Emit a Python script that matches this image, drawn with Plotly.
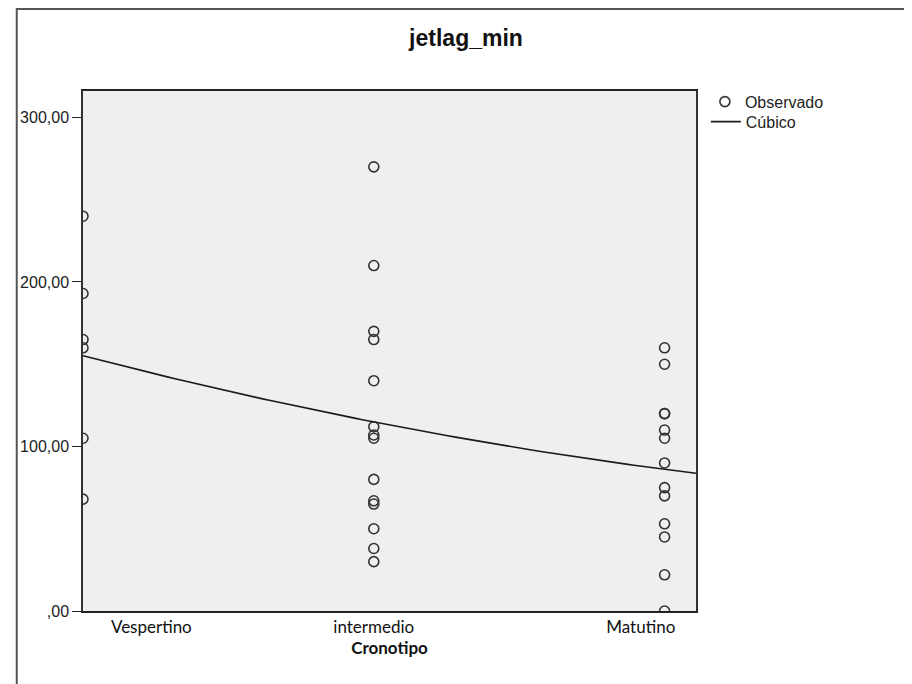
import numpy as np
import plotly.graph_objects as go

# ---- data ----
categories = ["Vespertino", "intermedio", "Matutino"]
category_codes = [1, 2, 3]
vespertino = [240, 193, 165, 160, 105, 68]
intermedio = [270, 210, 170, 165, 140, 112, 107, 105, 80, 67, 65, 50, 38, 30]
matutino = [160, 150, 120, 120, 110, 105, 90, 75, 70, 53, 45, 22, 0]
y_tickvals = [0, 100, 200, 300]
y_ticktext = [",00", "100,00", "200,00", "300,00"]

groups = [vespertino, intermedio, matutino]
xs = np.concatenate([[c] * len(g) for c, g in zip(category_codes, groups)]).astype(float)
ys = np.concatenate([np.array(g, dtype=float) for g in groups])

X_MIN, X_MAX = 1.0, 3.108
Y_MAX = 316.1

# SPSS "Cúbico" fit: with three distinct x values the cubic term drops out
coef = np.polyfit(xs, ys, 2)
xfit = np.linspace(X_MIN, X_MAX, 80)
yfit = np.polyval(coef, xfit)

fig = go.Figure()
fig.add_trace(go.Scatter(
    x=xs, y=ys, mode="markers", name="Observado", legend="legend",
    marker=dict(symbol="circle-open", size=10, color="#333333", line=dict(width=1.6, color="#333333")),
    cliponaxis=True,
))
fig.add_trace(go.Scatter(
    x=xfit, y=yfit, mode="lines", name="Cúbico", legend="legend2",
    line=dict(color="#1a1a1a", width=1.6),
))

AX_FONT = dict(family="Liberation Sans, Arial", size=16, color="#222222")
CAT_FONT = dict(family="Lato, Carlito, sans-serif", size=17, color="#111111")

# the page body adds an 8px offset, so the figure is 904x676
W, H = 904, 676
L, T, PW, PH = 68, 83, 620, 520

fig.update_layout(
    width=W, height=H,
    margin=dict(l=L, r=W - L - PW, t=T, b=H - T - PH),
    paper_bgcolor="white",
    plot_bgcolor="#efefef",
    title=dict(text="<b>jetlag_min</b>", x=458 / W, xanchor="center", y=1 - 30 / H, yanchor="middle",
               font=dict(family="Liberation Sans, Arial", size=23, color="#111111")),
    showlegend=True,
    legend=dict(x=1.0145, xanchor="left", y=1.0121, yanchor="top", bgcolor="rgba(0,0,0,0)",
                font=AX_FONT, itemwidth=30),
    legend2=dict(x=1.016, xanchor="left", y=0.9737, yanchor="top", bgcolor="rgba(0,0,0,0)",
                 font=AX_FONT, itemwidth=30),
    xaxis=dict(
        range=[X_MIN, X_MAX], showgrid=False, zeroline=False,
        tickmode="array", tickvals=[1.235, 2.0, 2.918], ticktext=categories,
        ticks="", tickfont=CAT_FONT,
        showline=True, linecolor="#222222", linewidth=1.5, mirror=True,
        title=dict(text="<b>Cronotipo</b>", font=CAT_FONT, standoff=5),
    ),
    yaxis=dict(
        range=[0, Y_MAX], showgrid=False, zeroline=False,
        tickmode="array", tickvals=y_tickvals, ticktext=y_ticktext,
        ticks="outside", ticklen=9, tickcolor="#222222", tickwidth=1.3,
        tickfont=AX_FONT,
        showline=True, linecolor="#333333", linewidth=1.5, mirror=True,
    ),
    shapes=[
        dict(type="rect", xref="paper", yref="paper",
             x0=(1 - L) / PW, x1=(W + 20 - L) / PW, y0=-0.3, y1=(T + PH - 1) / PH,
             line=dict(color="#555555", width=2), fillcolor="rgba(0,0,0,0)", layer="below"),
    ],
)

fig.write_html("out.html")
